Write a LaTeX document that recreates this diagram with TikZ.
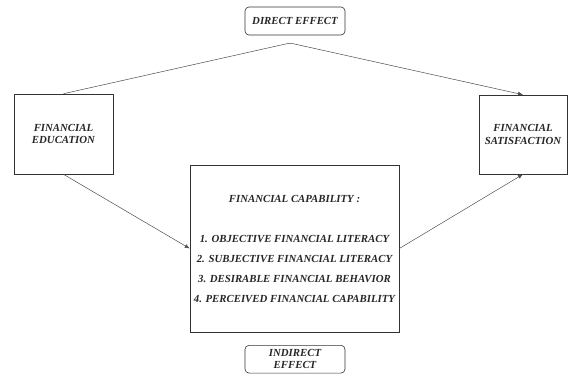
\documentclass[tikz,border=0pt]{standalone}
\usepackage{fontspec}
\setmainfont{Liberation Serif}
\usetikzlibrary{arrows.meta}

\begin{document}
\begin{tikzpicture}
[x=1pt,y=-1pt,
  lineDecorate/.style={-{Latex[length=5pt,width=4pt]},line width=0.5pt,draw=black!70},%
  boxDecorate/.style={shape=rectangle,draw=black!80,line width=0.6pt,inner sep=0pt,
    align=center,font=\fontsize{10.8}{12.5}\selectfont\bfseries\itshape,text=black!85},
  effectDecorate/.style={boxDecorate,rounded corners=4pt}]
\useasboundingbox (0,0) rectangle (568,376);
%% nodes or vertices
\node (educ) at (63.5,134) [boxDecorate,minimum width=99pt,minimum height=80pt]
  {FINANCIAL\\EDUCATION};
\node (satis) at (523,134.5) [boxDecorate,minimum width=88pt,minimum height=79pt]
  {FINANCIAL\\SATISFACTION};
\node (capab) at (294.5,248.5) [boxDecorate,minimum width=209pt,minimum height=167pt]
  {FINANCIAL CAPABILITY :\\[27.5pt]
   1. OBJECTIVE FINANCIAL LITERACY\\[7.5pt]
   2. SUBJECTIVE FINANCIAL LITERACY\\[7.5pt]
   3. DESIRABLE FINANCIAL BEHAVIOR\\[7.5pt]
   4. PERCEIVED FINANCIAL CAPABILITY};
\node (direct) at (295,21) [effectDecorate,minimum width=100pt,minimum height=28pt]
  {DIRECT EFFECT};
\node (indirect) at (295,345) [effectDecorate,anchor=north,minimum width=100pt,
  inner ysep=4pt] {INDIRECT\\EFFECT};
\coordinate (apex) at (290,43);
%% edges or lines
\draw[lineDecorate,rounded corners=3pt] (educ.north) -- (apex) -- (satis.north);
\foreach \startnode/\endnode in {educ.south/capab.west, capab.east/satis.south}
{
  \draw[lineDecorate] (\startnode) -- (\endnode);
}
\end{tikzpicture}
\end{document}
